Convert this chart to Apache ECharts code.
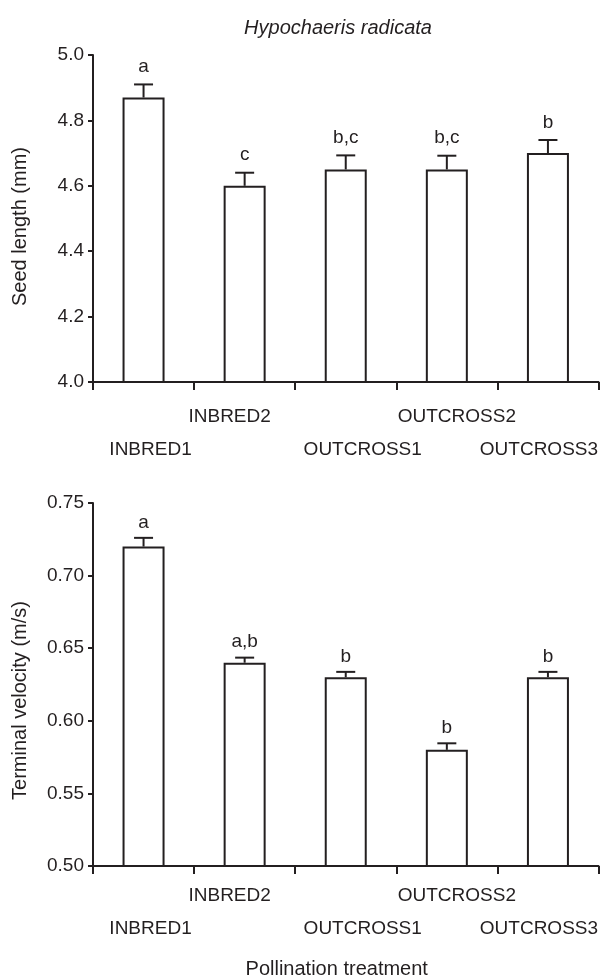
<!DOCTYPE html>
<html>
<head>
<meta charset="utf-8">
<script src="https://cdn.jsdelivr.net/npm/echarts@6/dist/echarts.min.js"></script>
<style>
html,body{margin:0;padding:0;background:#fff;}
#chart{width:601px;height:980px;}
</style>
</head>
<body>
<div id="chart"></div>
<script>
const categories = ['INBRED1', 'INBRED2', 'OUTCROSS1', 'OUTCROSS2', 'OUTCROSS3'];
const seedLength = [4.87, 4.60, 4.65, 4.65, 4.70];
const seedLengthErr = [0.04, 0.04, 0.043, 0.042, 0.04];
const seedLetters = ['a', 'c', 'b,c', 'b,c', 'b'];
const velocity = [0.72, 0.64, 0.63, 0.58, 0.63];
const velocityErr = [0.006, 0.0035, 0.0037, 0.0045, 0.0037];
const velocityLetters = ['a', 'a,b', 'b', 'b', 'b'];
const seedTicks = [4.0, 4.2, 4.4, 4.6, 4.8, 5.0];
const velocityTicks = [0.50, 0.55, 0.60, 0.65, 0.70, 0.75];

const INK = '#231f20';
const FONT = 'Liberation Sans, Arial, Helvetica, sans-serif';

const chart = echarts.init(document.getElementById('chart'), null, {renderer: 'canvas'});

function richLabels(lowerPad) {
  return {
    r0: {padding: [lowerPad, 0, 0, 14]},
    r1: {padding: [0, 30, 0, 0]},
    r2: {padding: [lowerPad, 0, 0, 34]},
    r3: {padding: [0, 0, 0, 20]},
    r4: {padding: [lowerPad, 18, 0, 0]}
  };
}

function xAxisDef(gridIndex, margin, lowerPad, withName) {
  const ax = {
    type: 'category',
    gridIndex: gridIndex,
    data: categories,
    boundaryGap: true,
    axisLine: {lineStyle: {color: INK, width: 2}},
    axisTick: {show: true, alignWithLabel: false, length: 8, lineStyle: {color: INK, width: 2}, interval: 0},
    axisLabel: {
      interval: 0,
      margin: margin,
      color: INK,
      fontFamily: FONT,
      fontSize: 19,
      formatter: function (v, i) { return '{r' + i + '|' + v + '}'; },
      rich: richLabels(lowerPad)
    },
    splitLine: {show: false}
  };
  if (withName) {
    ax.name = 'Pollination treatment';
    ax.nameLocation = 'middle';
    ax.nameGap = 93;
    ax.nameTextStyle = {color: INK, fontFamily: FONT, fontSize: 20, padding: [0, 18, 0, 0]};
  }
  return ax;
}

function yAxisDef(gridIndex, ticks, digits, name, namePad) {
  return {
    type: 'value',
    gridIndex: gridIndex,
    min: ticks[0],
    max: ticks[ticks.length - 1],
    interval: +(ticks[1] - ticks[0]).toFixed(4),
    axisLine: {show: true, lineStyle: {color: INK, width: 2}},
    axisTick: {show: true, length: 5, lineStyle: {color: INK, width: 2}},
    axisLabel: {
      margin: 9,
      color: INK,
      fontFamily: FONT,
      fontSize: 19,
      formatter: function (v) { return v.toFixed(digits); }
    },
    splitLine: {show: false},
    name: name,
    nameLocation: 'middle',
    nameGap: 63,
    nameTextStyle: {color: INK, fontFamily: FONT, fontSize: 20, padding: namePad}
  };
}

function barSeries(axisIndex, values) {
  return {
    type: 'bar',
    xAxisIndex: axisIndex,
    yAxisIndex: axisIndex,
    data: values,
    barWidth: 42,
    itemStyle: {color: '#ffffff', borderColor: INK, borderWidth: 2},
    silent: true,
    z: 2
  };
}

function errSeries(axisIndex, values, errs, letters, gap) {
  return {
    type: 'custom',
    xAxisIndex: axisIndex,
    yAxisIndex: axisIndex,
    data: values.map(function (v, i) { return [i, v, errs[i]]; }),
    encode: {x: 0, y: 1},
    silent: true,
    z: 5,
    renderItem: function (params, api) {
      const i = api.value(0), v = api.value(1), e = api.value(2);
      const p0 = api.coord([i, v]);
      const p1 = api.coord([i, v + e]);
      return {
        type: 'group',
        children: [
          {type: 'line', shape: {x1: p0[0], y1: p0[1], x2: p1[0], y2: p1[1]}, style: {stroke: INK, lineWidth: 2}},
          {type: 'line', shape: {x1: p1[0] - 9.5, y1: p1[1], x2: p1[0] + 9.5, y2: p1[1]}, style: {stroke: INK, lineWidth: 2}},
          {type: 'text', x: p1[0], y: p1[1] - gap,
            style: {text: letters[params.dataIndex], fill: INK, font: '19px ' + FONT, textAlign: 'center', textVerticalAlign: 'bottom'}}
        ]
      };
    }
  };
}

chart.setOption({
  animation: false,
  backgroundColor: '#ffffff',
  title: {
    text: 'Hypochaeris radicata',
    left: 333,
    top: 13,
    textAlign: 'center',
    textStyle: {color: INK, fontFamily: FONT, fontSize: 20, fontStyle: 'italic', fontWeight: 'normal'}
  },
  grid: [
    {left: 93, right: 2, top: 55, height: 327, containLabel: false},
    {left: 93, right: 2, top: 503, height: 364, containLabel: false}
  ],
  xAxis: [
    xAxisDef(0, 25, 33, false),
    xAxisDef(1, 20, 33, true)
  ],
  yAxis: [
    yAxisDef(0, seedTicks, 1, 'Seed length (mm)', [0, 16, 0, 0]),
    yAxisDef(1, velocityTicks, 2, 'Terminal velocity (m/s)', [0, 32, 0, 0])
  ],
  series: [
    barSeries(0, seedLength),
    errSeries(0, seedLength, seedLengthErr, seedLetters, 8),
    barSeries(1, velocity),
    errSeries(1, velocity, velocityErr, velocityLetters, 6)
  ]
});
</script>
</body>
</html>
